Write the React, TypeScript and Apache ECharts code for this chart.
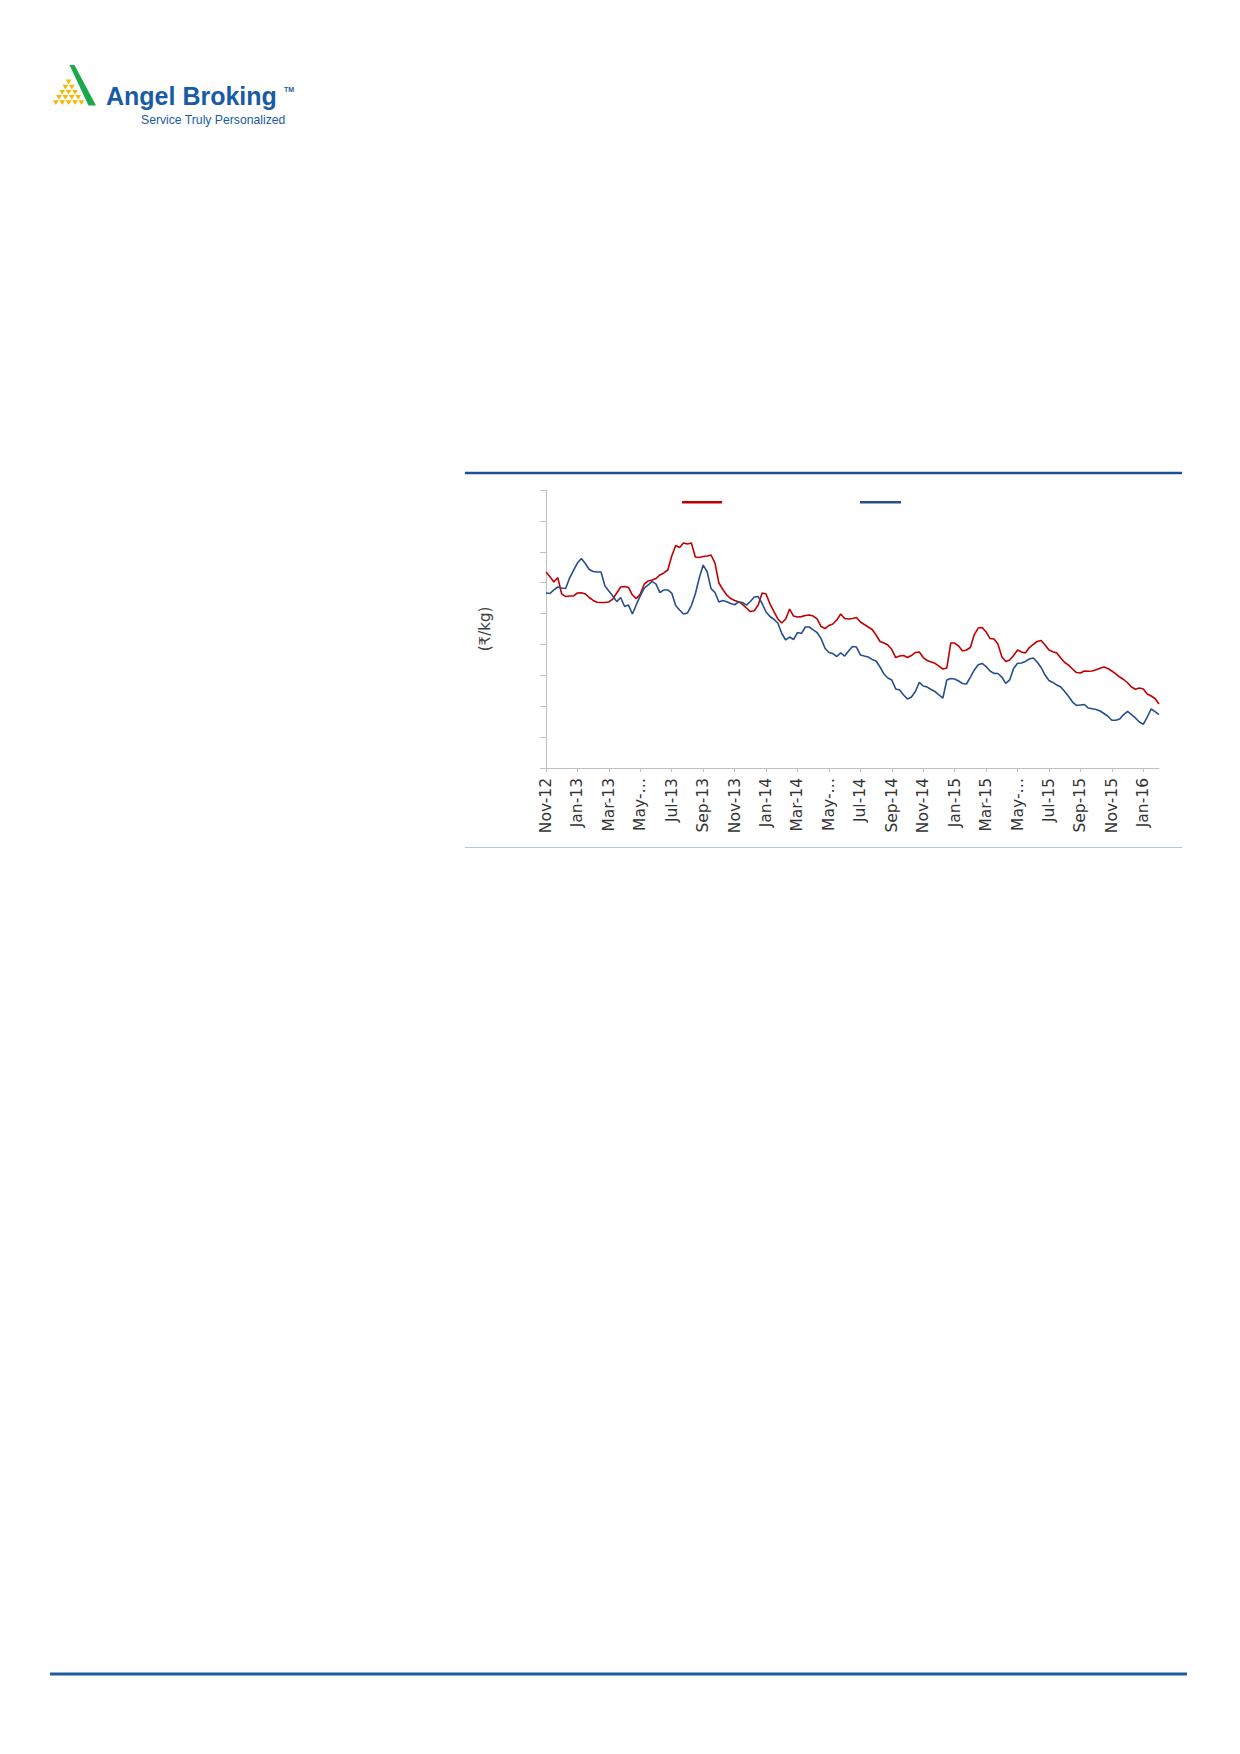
import React, { useEffect, useRef } from "react";
import * as echarts from "echarts";

// Weekly observation dates (1st, 8th, 16th, 24th of each month), 1-Nov-12 .. 1-Feb-16
const MONTHS = ["Jan", "Feb", "Mar", "Apr", "May", "Jun", "Jul", "Aug", "Sep", "Oct", "Nov", "Dec"];
const DAYS = [1, 8, 16, 24];
function buildCategories(count: number): string[] {
  const out: string[] = [];
  let y = 2012;
  let m = 10; // November (0-based)
  while (out.length < count) {
    const yy = String(y).slice(2);
    for (const d of DAYS) {
      if (out.length < count) out.push(`${d}-${MONTHS[m]}-${yy}`);
    }
    m += 1;
    if (m > 11) { m = 0; y += 1; }
  }
  return out;
}

// Tick labels every two months (Excel truncated the May labels)
const tickLabels = [
  "Nov-12", "Jan-13", "Mar-13", "May-…", "Jul-13", "Sep-13", "Nov-13",
  "Jan-14", "Mar-14", "May-…", "Jul-14", "Sep-14", "Nov-14",
  "Jan-15", "Mar-15", "May-…", "Jul-15", "Sep-15", "Nov-15", "Jan-16",
];

// Domestic price (red), ₹/kg
const domestic = [
  186.9, 183.9, 180.4, 183.3, 172.7, 171.0, 171.4, 171.4, 173.3, 173.5,
  172.7, 170.4, 168.5, 167.3, 167.2, 167.2, 167.5, 169.4, 173.3, 177.2,
  177.5, 176.9, 172.0, 169.7, 172.7, 179.1, 181.1, 181.7, 182.7, 185.0,
  186.3, 188.2, 197.3, 204.1, 202.8, 205.7, 205.0, 205.7, 196.6, 196.3,
  196.9, 197.3, 197.9, 192.7, 179.8, 175.6, 172.0, 169.7, 168.5, 167.7,
  165.9, 163.6, 161.3, 161.8, 165.5, 173.3, 172.7, 166.2, 161.3, 156.5,
  153.9, 156.5, 162.9, 158.4, 157.8, 158.0, 158.7, 159.1, 158.4, 156.5,
  151.6, 150.3, 152.3, 153.2, 155.8, 159.7, 156.8, 156.5, 156.8, 157.4,
  154.5, 152.9, 151.3, 149.7, 146.1, 141.9, 140.9, 139.6, 136.7, 131.5,
  132.5, 132.8, 131.5, 132.8, 134.8, 135.1, 131.5, 129.6, 128.6, 127.8,
  126.0, 124.1, 124.7, 140.9, 140.9, 139.0, 135.8, 136.4, 138.0, 146.4,
  150.6, 151.0, 148.1, 143.8, 143.5, 140.3, 132.1, 129.0, 129.9, 132.8,
  136.4, 135.1, 134.5, 138.0, 140.0, 141.9, 142.6, 139.6, 136.4, 135.3,
  134.5, 131.2, 128.3, 126.6, 124.1, 121.8, 121.5, 122.8, 122.6, 122.8,
  123.6, 124.6, 125.4, 124.4, 122.8, 120.9, 118.9, 117.3, 115.2, 112.4,
  111.0, 111.8, 111.2, 107.9, 106.6, 105.0, 101.4,
];

// International price (blue), ₹/kg
const international = [
  173.3, 173.0, 175.3, 177.2, 176.5, 176.2, 183.0, 187.9, 192.7, 195.6,
  192.4, 188.5, 187.2, 186.9, 186.9, 177.8, 174.6, 171.4, 167.7, 170.4,
  164.6, 165.5, 159.7, 165.9, 171.4, 176.5, 178.5, 180.8, 179.1, 173.6,
  175.3, 175.3, 173.3, 165.2, 162.3, 159.7, 160.4, 165.2, 172.7, 183.0,
  191.4, 187.2, 176.1, 173.6, 167.5, 168.5, 167.7, 166.5, 165.7, 167.5,
  167.2, 165.5, 167.8, 170.7, 171.0, 166.5, 161.0, 158.1, 156.2, 153.9,
  147.1, 142.9, 144.8, 143.2, 147.7, 147.1, 151.3, 151.3, 149.4, 147.7,
  143.8, 137.5, 134.8, 134.1, 132.2, 134.5, 132.5, 135.8, 138.7, 138.3,
  133.2, 132.5, 131.9, 130.3, 129.3, 125.4, 120.9, 118.3, 117.0, 111.2,
  110.5, 107.3, 104.7, 106.0, 109.5, 115.4, 113.1, 112.4, 110.8, 109.5,
  107.3, 105.3, 117.0, 117.9, 117.6, 116.3, 114.7, 114.4, 118.9, 123.5,
  126.9, 127.7, 125.7, 122.8, 121.3, 121.2, 118.9, 114.8, 117.0, 124.4,
  127.8, 128.0, 129.0, 130.6, 131.2, 128.6, 125.1, 120.2, 116.7, 115.4,
  113.7, 112.4, 109.5, 106.3, 102.7, 100.5, 100.8, 101.1, 98.8, 98.4,
  97.9, 96.9, 95.3, 93.5, 90.9, 90.9, 91.7, 94.6, 96.6, 94.6,
  92.4, 89.8, 88.2, 93.0, 98.2, 96.5, 94.6,
];

const categories = buildCategories(domestic.length);
const seriesNames = ["Domestic", "International"];
const RED = "#c00000";
const BLUE = "#264f8c";

function logoTriangles() {
  const items: any[] = [];
  const cx = 68.6;
  const top = 79.5;
  const w = 6.4;
  const rh = 5.2;
  for (let r = 0; r < 5; r++) {
    const y0 = top + r * rh;
    const start = cx - ((r + 1) * w) / 2;
    for (let k = 0; k <= r; k++) {
      const x0 = start + k * w;
      items.push({
        type: "polygon",
        shape: { points: [[x0 + 0.3, y0], [x0 + w - 0.3, y0], [x0 + w / 2, y0 + rh - 0.5]] },
        style: { fill: "#f5b800" },
      });
    }
  }
  return items;
}

export default function App() {
  const ref = useRef<HTMLDivElement>(null);
  useEffect(() => {
    if (!ref.current) return;
    const chart = echarts.init(ref.current, null, { renderer: "svg" });
    const option: any = {
      animation: false,
      backgroundColor: "#ffffff",
      grid: { left: 546, top: 490, width: 613, height: 278, containLabel: false },
      legend: [
        {
          data: [seriesNames[0]],
          left: 682,
          top: 501,
          padding: 0,
          itemWidth: 40,
          itemHeight: 2.5,
          icon: "rect",
          formatter: () => "",
          textStyle: { fontSize: 12 },
        },
        {
          data: [seriesNames[1]],
          left: 860,
          top: 501,
          padding: 0,
          itemWidth: 41,
          itemHeight: 2.5,
          icon: "rect",
          formatter: () => "",
          textStyle: { fontSize: 12 },
        },
      ],
      xAxis: {
        type: "category",
        data: categories,
        boundaryGap: false,
        axisLine: { lineStyle: { color: "#c0c0c0", width: 1 } },
        axisTick: { show: true, interval: 7, length: 4, lineStyle: { color: "#c0c0c0" } },
        axisLabel: {
          interval: 7,
          rotate: 90,
          margin: 10,
          color: "#333333",
          fontSize: 15.5,
          fontFamily: "DejaVu Sans",
          formatter: (_v: string, idx: number) => (idx % 8 === 0 ? tickLabels[idx / 8] : ""),
        },
        splitLine: { show: false },
      },
      yAxis: {
        type: "value",
        min: 60,
        max: 240,
        interval: 20,
        name: "(₹/kg)",
        nameLocation: "middle",
        nameGap: 54,
        nameTextStyle: { color: "#404040", fontSize: 15, fontFamily: "DejaVu Sans" },
        axisLine: { show: true, lineStyle: { color: "#c0c0c0", width: 1 } },
        axisTick: { show: true, length: 6, lineStyle: { color: "#c0c0c0" } },
        axisLabel: { show: false },
        splitLine: { show: false },
      },
      series: [
        {
          name: seriesNames[0],
          type: "line",
          data: domestic,
          symbol: "none",
          color: RED,
          lineStyle: { color: RED, width: 1.6 },
        },
        {
          name: seriesNames[1],
          type: "line",
          data: international,
          symbol: "none",
          color: BLUE,
          lineStyle: { color: BLUE, width: 1.6 },
        },
      ],
      graphic: [
        {
          type: "polygon",
          shape: { points: [[69.5, 65], [74.5, 65], [96, 105.5], [88.5, 105.5]] },
          style: { fill: "#1aa84b" },
        },
        ...logoTriangles(),
        {
          type: "text",
          left: 106,
          top: 83,
          style: {
            text: "Angel Broking",
            fill: "#1a5ba6",
            font: "bold 25px 'Liberation Sans', Arial, sans-serif",
          },
        },
        {
          type: "text",
          left: 284,
          top: 86,
          style: { text: "TM", fill: "#1a5ba6", font: "bold 7px 'Liberation Sans', Arial, sans-serif" },
        },
        {
          type: "text",
          left: 141,
          top: 114,
          style: {
            text: "Service Truly Personalized",
            fill: "#1a5ba6",
            font: "12.2px 'Liberation Sans', Arial, sans-serif",
          },
        },
        {
          type: "line",
          shape: { x1: 465, y1: 473, x2: 1182, y2: 473 },
          style: { stroke: "#1f4e99", lineWidth: 2.5 },
        },
        {
          type: "line",
          shape: { x1: 465, y1: 847.5, x2: 1182, y2: 847.5 },
          style: { stroke: "#b3c7df", lineWidth: 1 },
        },
        {
          type: "line",
          shape: { x1: 50, y1: 1674, x2: 1187, y2: 1674 },
          style: { stroke: "#1f5aa3", lineWidth: 3 },
        },
      ],
    };
    chart.setOption(option);
    return () => chart.dispose();
  }, []);
  return (
    <div
      ref={ref}
      style={{ position: "absolute", left: 0, top: 0, width: 1240, height: 1754, background: "#fff" }}
    />
  );
}
